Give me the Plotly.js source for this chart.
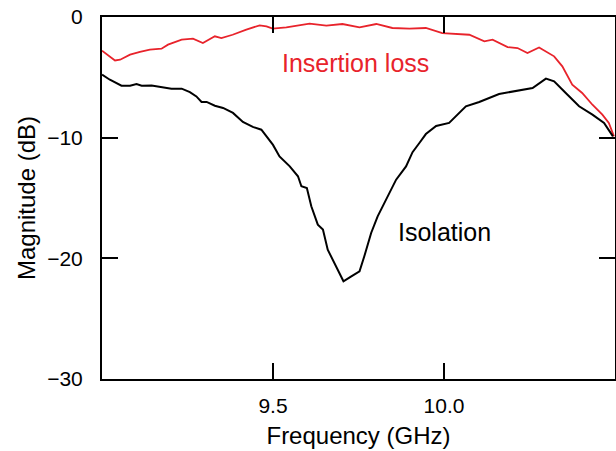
<!DOCTYPE html>
<html>
<head>
<meta charset="utf-8">
<script src="https://cdn.plot.ly/plotly-3.0.1.min.js"></script>
<style>html,body{margin:0;padding:0;background:#fff;}#chart{width:616px;height:451px;}</style>
</head>
<body>
<div id="chart"></div>
<script>
// Insertion loss (red)
const insFreq = [9.000, 9.038, 9.053, 9.082, 9.111, 9.140, 9.174, 9.193, 9.233, 9.266, 9.295, 9.330, 9.349, 9.382, 9.422, 9.461, 9.481, 9.499, 9.539, 9.607, 9.656, 9.703, 9.753, 9.802, 9.849, 9.899, 9.947, 9.995, 10.074, 10.118, 10.142, 10.186, 10.215, 10.244, 10.278, 10.322, 10.346, 10.375, 10.404, 10.434, 10.463, 10.482, 10.497];
const insLoss = [-2.79, -3.60, -3.54, -3.12, -2.90, -2.71, -2.63, -2.29, -1.88, -1.80, -2.16, -1.60, -1.74, -1.47, -1.05, -0.69, -0.77, -0.97, -0.86, -0.55, -0.72, -0.58, -0.86, -0.58, -0.91, -0.97, -0.91, -1.33, -1.47, -2.02, -1.88, -2.49, -2.57, -2.98, -2.52, -3.26, -4.09, -5.61, -6.30, -7.27, -8.09, -8.78, -9.89];

// Isolation (black)
const isoFreq = [9.000, 9.023, 9.057, 9.082, 9.101, 9.116, 9.145, 9.174, 9.203, 9.233, 9.257, 9.276, 9.291, 9.306, 9.330, 9.354, 9.383, 9.412, 9.441, 9.466, 9.485, 9.500, 9.519, 9.549, 9.573, 9.583, 9.599, 9.612, 9.631, 9.646, 9.660, 9.685, 9.706, 9.729, 9.753, 9.767, 9.787, 9.806, 9.831, 9.860, 9.889, 9.908, 9.928, 9.947, 9.977, 10.015, 10.064, 10.103, 10.161, 10.220, 10.259, 10.298, 10.322, 10.356, 10.395, 10.434, 10.468, 10.494];
const isolation = [-4.78, -5.20, -5.69, -5.69, -5.55, -5.69, -5.67, -5.83, -5.94, -5.94, -6.22, -6.58, -7.04, -7.04, -7.35, -7.54, -7.95, -8.70, -9.11, -9.34, -10.03, -10.60, -11.55, -12.38, -13.20, -14.03, -14.17, -15.69, -17.21, -17.62, -19.28, -20.66, -21.90, -21.49, -21.08, -19.83, -17.90, -16.52, -15.14, -13.48, -12.38, -11.20, -10.44, -9.70, -9.03, -8.78, -7.40, -7.04, -6.38, -6.11, -5.88, -5.11, -5.33, -6.30, -7.40, -8.09, -8.78, -9.89];

const xTickVals = [9.5, 10.0];
const xTickText = ["9.5", "10.0"];
const yTickVals = [0, -10, -20, -30];
const yTickText = ["0", "\u221210", "\u221220", "\u221230"];

const seriesLabels = ["Insertion loss", "Isolation"];
const labelX = [9.741, 10.0];
const labelY = [-3.81, -17.85];

const FONT = "Liberation Sans, Arial, Helvetica, sans-serif";
const RED = "#e8232b";

const traces = [
  {x: insFreq, y: insLoss, type: "scatter", mode: "lines", line: {color: RED, width: 1.8}, hoverinfo: "skip"},
  {x: isoFreq, y: isolation, type: "scatter", mode: "lines", line: {color: "#000", width: 2}, hoverinfo: "skip"}
];

const layout = {
  width: 616, height: 451,
  margin: {l: 102, r: 1, t: 17, b: 72},
  paper_bgcolor: "#fff", plot_bgcolor: "#fff",
  showlegend: false,
  font: {family: FONT, color: "#000"},
  xaxis: {
    range: [9.0, 10.5], tickmode: "array", tickvals: xTickVals, ticktext: xTickText,
    ticks: "inside", ticklen: 16, tickwidth: 2, tickcolor: "#000",
    showline: true, linewidth: 2, linecolor: "#000", mirror: "allticks",
    showgrid: false, zeroline: false,
    tickfont: {size: 21, family: FONT}, ticklabelstandoff: 7,
    title: {text: "Frequency (GHz)", font: {size: 24, family: FONT}, standoff: 11}
  },
  yaxis: {
    range: [-30, 0], tickmode: "array", tickvals: yTickVals, ticktext: yTickText,
    ticks: "inside", ticklen: 16, tickwidth: 2, tickcolor: "#000",
    showline: true, linewidth: 2, linecolor: "#000", mirror: "allticks",
    showgrid: false, zeroline: false,
    tickfont: {size: 21, family: FONT}, ticklabelstandoff: 13,
    title: {text: "Magnitude (dB)", font: {size: 24, family: FONT}, standoff: 5}
  },
  annotations: [
    {x: labelX[0], y: labelY[0], xref: "x", yref: "y", text: seriesLabels[0], showarrow: false, font: {size: 25, color: RED, family: FONT}},
    {x: labelX[1], y: labelY[1], xref: "x", yref: "y", text: seriesLabels[1], showarrow: false, font: {size: 25, color: "#000", family: FONT}}
  ]
};

Plotly.newPlot("chart", traces, layout, {staticPlot: true, displayModeBar: false});
</script>
</body>
</html>
